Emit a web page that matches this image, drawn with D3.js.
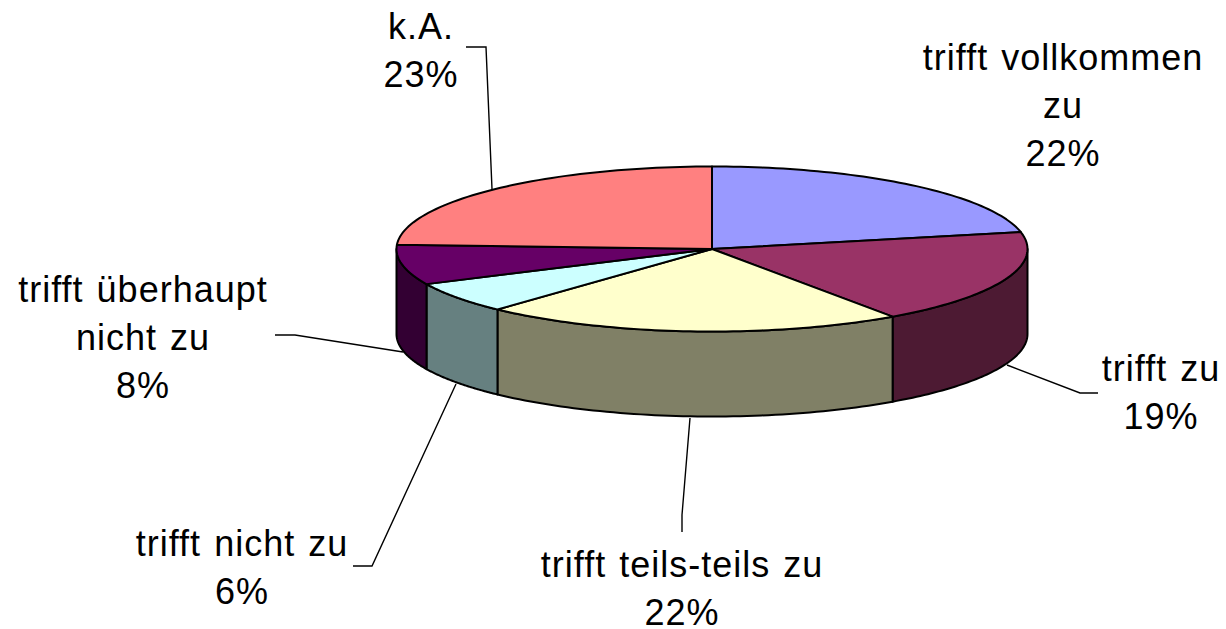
<!DOCTYPE html>
<html><head><meta charset="utf-8">
<script src="https://cdn.jsdelivr.net/npm/d3@7/dist/d3.min.js"></script>
<style>html,body{margin:0;background:#fff}svg{display:block}text{font-family:"Liberation Sans",sans-serif;font-size:36px;letter-spacing:1px;word-spacing:2px;fill:#000;text-anchor:middle}</style>
</head><body><svg width="1226" height="629"></svg>
<script>
const categories = ["trifft vollkommen zu","trifft zu","trifft teils-teils zu","trifft nicht zu","trifft überhaupt nicht zu","k.A."];
const labelPercents = [22,19,22,6,8,23];
const sliceShares = [21.7,18.6,21.6,6.1,7.8,24.2];
const topColors = ["#9999FF","#993366","#FFFFCC","#CCFFFF","#660066","#FF8080"];
const sideColors = ["#4D4D80","#4D1A33","#808066","#668080","#330033","#804040"];
const labelLines = [["trifft vollkommen","zu"],["trifft zu"],["trifft teils-teils zu"],["trifft nicht zu"],["trifft überhaupt","nicht zu"],["k.A."]];

const cx=712, cy=249, rx=315.5, ry=82.5, depth=85;
const labelLayout=[{x:1063,y:70},{x:1161,y:381},{x:682,y:577},{x:242,y:556},{x:143,y:302},{x:421,y:39}];
const leaderLayout=[null,
 [[1007,365],[1080,393],[1098,393]],
 [[690,418],[682,515],[682,532]],
 [[456,384],[372,566],[353,566]],
 [[275,335],[295,335],[403,352]],
 [[466,47],[486,47],[492,189]]];

const svg=d3.select("svg");
const arcs=d3.pie().sort(null).value(d=>d).startAngle(0).endAngle(2*Math.PI)(sliceShares);
const px=a=>cx+rx*Math.sin(a), py=(a,h=0)=>cy-ry*Math.cos(a)+h;
const line=d3.line();
const samples=(a0,a1,h)=>d3.range(0,61).map(i=>{const a=a0+(a1-a0)*i/60;return [px(a),py(a,h)];});

// sides (only the front half, 90°–270°)
const lo=Math.PI/2, hi=3*Math.PI/2;
arcs.forEach((d,i)=>{
  const a0=Math.max(d.startAngle,lo), a1=Math.min(d.endAngle,hi);
  if(a1<=a0) return;
  const pts=samples(a0,a1,0).concat(samples(a1,a0,depth));
  svg.append("path").attr("d",line(pts)+"Z").attr("fill",sideColors[i])
    .attr("stroke","#000").attr("stroke-width",2).attr("stroke-linejoin","round");
});
// top
arcs.forEach((d,i)=>{
  const pts=[[cx,cy]].concat(samples(d.startAngle,d.endAngle,0));
  svg.append("path").attr("d",line(pts)+"Z").attr("fill",topColors[i])
    .attr("stroke","#000").attr("stroke-width",2).attr("stroke-linejoin","round");
});
// leaders
leaderLayout.forEach(p=>{ if(p) svg.append("path").attr("d",line(p)).attr("fill","none").attr("stroke","#000").attr("stroke-width",1.4); });
// labels
categories.forEach((c,i)=>{
  const L=labelLayout[i];
  const rows=labelLines[i].concat(labelPercents[i]+"%");
  rows.forEach((r,j)=>svg.append("text").attr("x",L.x).attr("y",L.y+j*48).text(r));
});
</script></body></html>
